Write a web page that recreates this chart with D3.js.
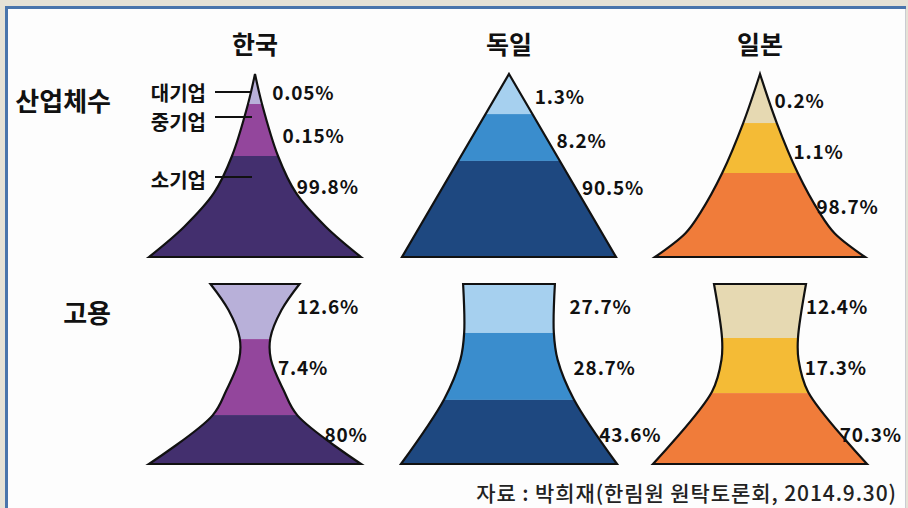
<!DOCTYPE html>
<html>
<head>
<meta charset="utf-8">
<script src="https://cdn.jsdelivr.net/npm/d3@7"></script>
<style>
  body { margin: 0; background: #e6e2d6; }
  svg { display: block; }
</style>
</head>
<body>
<div id="chart"></div>
<script>
// Data
var countries = ["한국", "독일", "일본"];
var rowLabels = ["산업체수", "고용"];
var sizeLabels = ["대기업", "중기업", "소기업"];

// share of firms (%), large / medium / small
var koreaFirms = [0.05, 0.15, 99.8];
var germanyFirms = [1.3, 8.2, 90.5];
var japanFirms = [0.2, 1.1, 98.7];
// share of employment (%)
var koreaJobs = [12.6, 7.4, 80];
var germanyJobs = [27.7, 28.7, 43.6];
var japanJobs = [12.4, 17.3, 70.3];

var sourceText = "자료 : 박희재(한림원 원탁토론회, 2014.9.30)";

// Colours per country: light, mid, dark
var palettes = [
  ["#b8b0d9", "#93469c", "#432f6e"],
  ["#a6d0ef", "#3a8dcd", "#1e4880"],
  ["#e6d9b2", "#f4bb36", "#f07c3a"]
];

// Layout
var width = 908, height = 508;
var centers = [255, 509, 760];
var rowTop = [74, 284], rowBottom = [257, 464];
var halfBase = [[106, 107, 105], [106, 108, 107]];

// Silhouette profiles: [t from top, half-width as fraction of half base]
var profiles = [
  [
    [[0, 0], [0.164, 0.066], [0.448, 0.217], [0.65, 0.387], [0.836, 0.67], [1, 1]],
    [[0, 0], [1, 1]],
    [[0, 0], [0.268, 0.16], [0.541, 0.36], [0.76, 0.57], [0.87, 0.71], [1, 1]]
  ],
  [
    [[0, 0.42], [0.145, 0.25], [0.3, 0.145], [0.42, 0.15], [0.59, 0.27], [0.73, 0.4], [1, 1]],
    [[0, 0.425], [0.27, 0.415], [0.42, 0.45], [0.64, 0.6], [1, 1]],
    [[0, 0.43], [0.3, 0.355], [0.42, 0.36], [0.6, 0.45], [1, 1]]
  ]
];
// band boundaries (t) in each silhouette
var bandBreaks = [
  [[0.164, 0.448], [0.219, 0.475], [0.268, 0.541]],
  [[0.306, 0.728], [0.272, 0.644], [0.3, 0.606]]
];
// where each % label sits (t) and how far right of the outline
var labelT = [
  [[0.098, 0.333, 0.612], [0.12, 0.36, 0.617], [0.137, 0.42, 0.716]],
  [[0.117, 0.461, 0.828], [0.117, 0.461, 0.828], [0.117, 0.461, 0.828]]
];
var labelDx = [
  [[13, 11, 4], [13, 9, 7], [6, 5, 1]],
  [[12, 4, 4], [15, 13, 3], [3, 4, -2]]
];

var values = [
  [koreaFirms, germanyFirms, japanFirms],
  [koreaJobs, germanyJobs, japanJobs]
];

var fontFamily = "'Noto Sans CJK KR', 'Noto Sans', sans-serif";

var svg = d3.select("#chart")
  .append("svg")
  .attr("width", width)
  .attr("height", height);

// frame
svg.append("rect")
  .attr("x", 0).attr("y", 0)
  .attr("width", width).attr("height", height)
  .attr("fill", "#e6e2d6");
svg.append("rect")
  .attr("x", 8).attr("y", 9)
  .attr("width", 897).attr("height", height)
  .attr("fill", "#fdfdfd");
svg.append("line")
  .attr("x1", 6.5).attr("x2", 6.5)
  .attr("y1", 6).attr("y2", height)
  .attr("stroke", "#4a75ac").attr("stroke-width", 3);
svg.append("line")
  .attr("x1", 5).attr("x2", 906)
  .attr("y1", 7.5).attr("y2", 7.5)
  .attr("stroke", "#4a75ac").attr("stroke-width", 3);
svg.append("line")
  .attr("x1", 905.5).attr("x2", 905.5)
  .attr("y1", 9).attr("y2", height)
  .attr("stroke", "#c9ccd3").attr("stroke-width", 1);

// column titles
svg.selectAll(".title")
  .data(countries)
  .enter()
  .append("text")
  .attr("class", "title")
  .attr("x", function(d, i){ return centers[i]; })
  .attr("y", 43)
  .attr("text-anchor", "middle")
  .attr("dominant-baseline", "central")
  .style("font-family", fontFamily)
  .style("font-weight", "bold")
  .style("font-size", "25px")
  .style("fill", "#111")
  .text(function(d){ return d; });

// row labels
var rowLabelY = [99, 311];
svg.selectAll(".rowlabel")
  .data(rowLabels)
  .enter()
  .append("text")
  .attr("class", "rowlabel")
  .attr("x", 111)
  .attr("y", function(d, i){ return rowLabelY[i]; })
  .attr("text-anchor", "end")
  .attr("dominant-baseline", "central")
  .style("font-family", fontFamily)
  .style("font-weight", "bold")
  .style("font-size", "26px")
  .style("fill", "#111")
  .text(function(d){ return d; });

// one silhouette per row/country
for(var r = 0; r < 2; r++){
  for(var c = 0; c < 3; c++){
    drawShape(r, c);
  }
}

function drawShape(r, c){
  var prof = profiles[r][c];
  var cx = centers[c];
  var y = d3.scaleLinear().domain([0, 1]).range([rowTop[r], rowBottom[r]]);
  var w = d3.scaleLinear().domain([0, 1]).range([0, halfBase[r][c]]);
  // piecewise-linear read of the outline, for placing labels
  var edge = d3.scaleLinear()
    .domain(prof.map(function(p){ return p[0]; }))
    .range(prof.map(function(p){ return p[1]; }));

  var area = d3.area()
    .y(function(p){ return y(p[0]); })
    .x0(function(p){ return cx - w(p[1]); })
    .x1(function(p){ return cx + w(p[1]); })
    .curve(d3.curveCatmullRom.alpha(0.5));

  var clipId = "clip-" + r + "-" + c;
  svg.append("clipPath")
    .attr("id", clipId)
    .append("path")
    .attr("d", area(prof));

  var breaks = [0].concat(bandBreaks[r][c]).concat([1]);
  var g = svg.append("g").attr("clip-path", "url(#" + clipId + ")");
  g.selectAll("rect")
    .data(values[r][c])
    .enter()
    .append("rect")
    .attr("x", cx - halfBase[r][c] - 5)
    .attr("width", halfBase[r][c] * 2 + 10)
    .attr("y", function(d, i){ return y(breaks[i]); })
    .attr("height", function(d, i){ return y(breaks[i + 1]) - y(breaks[i]); })
    .attr("fill", function(d, i){ return palettes[c][i]; });

  svg.append("path")
    .attr("d", area(prof))
    .attr("fill", "none")
    .attr("stroke", "#111")
    .attr("stroke-width", 2.2)
    .attr("stroke-linejoin", "miter");

  svg.append("g").selectAll("text")
    .data(values[r][c])
    .enter()
    .append("text")
    .attr("x", function(d, i){
      var t = labelT[r][c][i];
      return cx + w(edge(t)) + labelDx[r][c][i];
    })
    .attr("y", function(d, i){ return y(labelT[r][c][i]); })
    .attr("dominant-baseline", "central")
    .style("font-family", fontFamily)
    .style("font-weight", "bold")
    .style("font-size", "19px")
    .style("letter-spacing", "0.8px")
    .style("fill", "#111")
    .text(function(d){ return d + "%"; });
}

// firm size call-outs next to the Korean pyramid
var calloutY = [92, 121, 179];
var calloutLineY = [92, 117, 177];
svg.selectAll(".size")
  .data(sizeLabels)
  .enter()
  .append("text")
  .attr("class", "size")
  .attr("x", 206)
  .attr("y", function(d, i){ return calloutY[i]; })
  .attr("text-anchor", "end")
  .attr("dominant-baseline", "central")
  .style("font-family", fontFamily)
  .style("font-weight", "bold")
  .style("font-size", "20px")
  .style("fill", "#111")
  .text(function(d){ return d; });
svg.selectAll(".sizeline")
  .data(sizeLabels)
  .enter()
  .append("line")
  .attr("x1", 215)
  .attr("x2", 252)
  .attr("y1", function(d, i){ return calloutLineY[i]; })
  .attr("y2", function(d, i){ return calloutLineY[i]; })
  .attr("stroke", "#111")
  .attr("stroke-width", 2);

// source
svg.append("text")
  .attr("x", 897)
  .attr("y", 492)
  .attr("text-anchor", "end")
  .attr("dominant-baseline", "central")
  .style("font-family", fontFamily)
  .style("font-weight", "500")
  .style("font-size", "21px")
  .style("letter-spacing", "0.9px")
  .style("fill", "#222")
  .text(sourceText);
</script>
</body>
</html>
